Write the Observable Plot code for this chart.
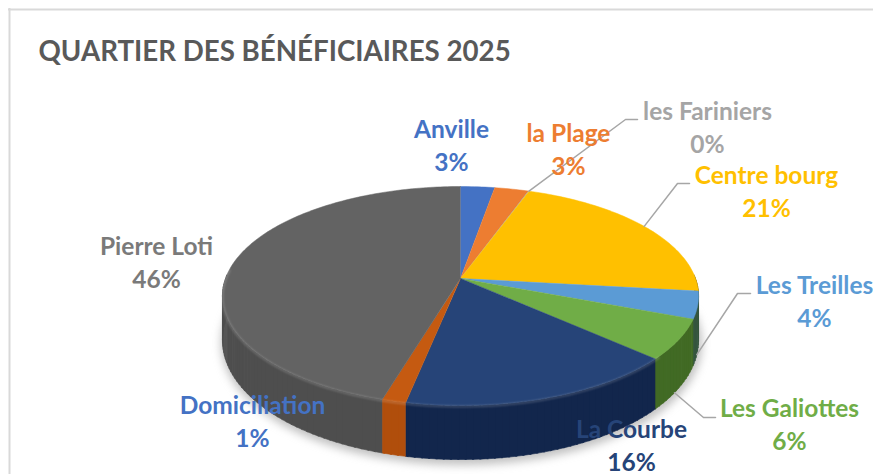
<!DOCTYPE html>
<html><head><meta charset="utf-8">
<script src="https://cdn.jsdelivr.net/npm/d3@7"></script>
<script src="https://cdn.jsdelivr.net/npm/@observablehq/plot@0.6"></script>
<style>html,body{margin:0;padding:0;background:#fff;overflow:hidden}svg{display:block}</style>
</head><body><div id="chart"></div>
<script>
// Data, clockwise from twelve o'clock
const categories = ["Anville","la Plage","les Fariniers","Centre bourg","Les Treilles","Les Galiottes","La Courbe","Domiciliation","Pierre Loti"];
const shares     = [2.7, 2.7, 0.05, 21.4, 4.0, 5.9, 16.4, 1.4, 45.45];
const percentLabels = ["3%","3%","0%","21%","4%","6%","16%","1%","46%"];
const topColors  = ["#4472c4","#ed7d31","#a5a5a5","#ffc000","#5b9bd5","#70ad47","#264478","#c55a11","#636363"];
const sideColors = ["#2a4a85","#a0521c","#6f6f6f","#6b5a10","#35563f","#416a24","#12264c","#b04e0c","#4e4e4e"];
const labelColors= ["#4472c4","#ed7d31","#a5a5a5","#ffc000","#5b9bd5","#70ad47","#264478","#4472c4","#7a7a7a"];
const titleText = "QUARTIER DES BÉNÉFICIAIRES 2025";

// Layout, kept apart from the values
const W = 873, H = 474;
const cx = 460, cy = 278, Rx = 235, Ry = 106.7, persp = 0.16;
const labelX = [451,568,707,766,814,789,631,252,156];
const labelY = [143,147,125,189,299,422,443,419,260];
const leaders = [
  {cat:"les Fariniers", angle:19.6, elbow:[625,119], end:[637,119]},
  {cat:"Centre bourg",  angle:58,   elbow:[677,183], end:[689,183]},
  {cat:"Les Treilles",  angle:106,  depth:1, elbow:[737,293], end:[750,293]},
  {cat:"Les Galiottes", angle:124,  depth:1, elbow:[703,417], end:[715,417]}
];

const rad = d => d * Math.PI / 180;
const px = deg => {
  const s = Math.sin(rad(deg)), c = Math.cos(rad(deg));
  const w = 1 + persp * c;
  return [cx + Rx * s / w, cy - Ry * c / w];
};
const depthAt = deg => 42 + 12 * Math.max(0, -Math.cos(rad(deg)));

// Slice angles from the values
const total = d3.sum(shares);
let acc = 0;
const slices = categories.map((name, i) => {
  const a0 = acc / total * 360; acc += shares[i];
  return {name, i, a0, a1: acc / total * 360};
});

const range = (a, b, step = 1) => { const o = []; for (let t = a; t < b; t += step) o.push(t); o.push(b); return o; };

const topPoly = [], sidePoly = [], shadowPoly = [], bevel = [];
for (const s of slices) {
  topPoly.push({id:s.name, x:cx, y:cy, c:topColors[s.i]});
  for (const t of range(s.a0, s.a1)) { const [x,y] = px(t); topPoly.push({id:s.name, x, y, c:topColors[s.i]}); }
  // visible side strips
  const a = Math.max(s.a0, 88), b = Math.min(s.a1, 272);
  if (b > a) for (const t of range(a, b - 1e-6, 1.5)) {
    const t2 = Math.min(t + 1.8, b), id = s.name + t;
    const col = sideColors[s.i];
    const [x1,y1] = px(t), [x2,y2] = px(t2);
    sidePoly.push({id,x:x1,y:y1,c:col},{id,x:x2,y:y2,c:col},{id,x:x2,y:y2+depthAt(t2),c:col},{id,x:x1,y:y1+depthAt(t),c:col});
  }
}
for (const t of range(85, 275, 2)) {
  const [x,y] = px(t);
  shadowPoly.push({x:x + 1, y:y + depthAt(t) + 3});
  if (t > 130) bevel.push({x, y:y + 1});
}
const labelText = categories.map((c,i) => `${c}\n${percentLabels[i]}`);
const labelRows = categories.map((c,i) => ({text:labelText[i], x:labelX[i], y:labelY[i], c:labelColors[i]}));
const leaderRows = leaders.flatMap(l => {
  const [x0,y0] = px(l.angle);
  const y00 = y0 + (l.depth ? depthAt(l.angle) : 0);
  return [{id:l.cat,x:x0,y:y00},{id:l.cat,x:l.elbow[0],y:l.elbow[1]},{id:l.cat,x:l.end[0],y:l.end[1]}];
});

const chart = Plot.plot({
  width: W, height: H, margin: 0,
  x: {domain:[0,W], range:[0,W], axis:null},
  y: {domain:[0,H], range:[0,H], axis:null},
  marks: [
    Plot.ruleX([9], {stroke:"#d9d9d9", strokeWidth:2, y1:8, y2:H}),
    Plot.ruleY([9], {stroke:"#d9d9d9", strokeWidth:2, x1:8, x2:W}),
    Plot.line(shadowPoly, {x:"x", y:"y", fill:"#8a8a8a", stroke:"#8a8a8a", strokeWidth:4, fillOpacity:0.5, strokeOpacity:0.5, imageFilter:"blur(5px)"}),
    Plot.line(sidePoly, {x:"x", y:"y", z:"id", fill:"c", stroke:"c", strokeWidth:0.6}),
    Plot.line(topPoly, {x:"x", y:"y", z:"id", fill:"c", stroke:"c", strokeWidth:0.5}),
    Plot.line(bevel, {x:"x", y:"y", stroke:"#ffffff", strokeOpacity:0.2, strokeWidth:2, imageFilter:"blur(0.8px)"}),
    Plot.line(leaderRows, {x:"x", y:"y", z:"id", stroke:"#a6a6a6", strokeWidth:1.5}),
    Plot.text(labelRows, {x:"x", y:"y", text:"text", fill:"c", fontFamily:"Lato", fontWeight:700, fontSize:24.5, lineHeight:1.35, textAnchor:"middle"}),
    Plot.text([titleText], {x:38, y:52, text:d=>d, fill:"#595959", fontFamily:"Lato", fontWeight:700, fontSize:27.7, textAnchor:"start"})
  ]
});
document.getElementById("chart").append(chart);
</script></body></html>
